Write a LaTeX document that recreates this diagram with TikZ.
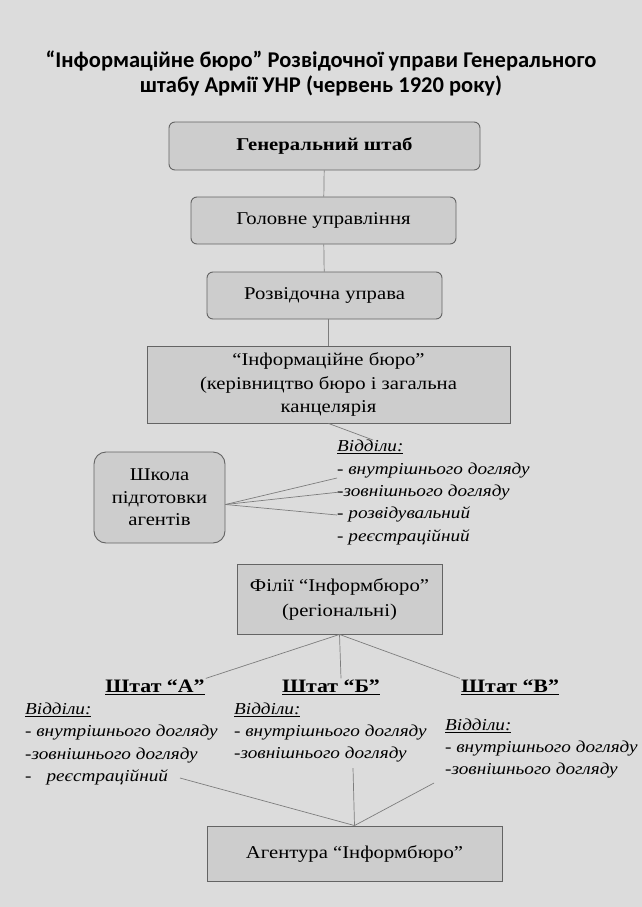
\documentclass[tikz,border=0pt]{standalone}
\usepackage{fontspec}
\setmainfont{Liberation Serif}[FakeStretch=1.15]
\newfontfamily\titlefont{Carlito}

\definecolor{bggray}{RGB}{220,220,220}
\definecolor{boxfill}{RGB}{205,205,205}
\definecolor{boxline}{RGB}{100,100,100}
\definecolor{linkgray}{RGB}{125,125,125}

\tikzset{
    box/.style={draw=boxline,fill=boxfill,line width=0.9pt,inner sep=0pt,align=center,
        font=\fontsize{18}{23.5}\selectfont},
    rbox/.style={box,rounded corners=6pt},
    list/.style={inner sep=0pt,align=left,anchor=west,font=\fontsize{16.7}{22.4}\selectfont\itshape},
    shtat/.style={inner sep=1pt,font=\fontsize{19}{20}\selectfont\bfseries},
    link/.style={draw=linkgray,line width=0.7pt}
}

\begin{document}
\begin{tikzpicture}[x=1pt,y=-1pt]
        \fill[bggray](0,0)rectangle(642,907);
        \useasboundingbox(0,0)rectangle(642,907);
        \node[align=center,font=\titlefont\fontsize{22.5}{25}\selectfont\bfseries](title) at(321,73)
            {“Інформаційне бюро” Розвідочної управи Генерального\\штабу Армії УНР (червень 1920 року)};
        \node[rbox,minimum width=311,minimum height=48,font=\fontsize{18}{23}\selectfont\bfseries](genshtab) at(324.5,146){Генеральний штаб};
        \node[rbox,minimum width=265,minimum height=47](golovne) at(323.5,220.5){Головне управління};
        \node[rbox,minimum width=235,minimum height=47](rozvid) at(324.5,295.5){Розвідочна управа};
        \node[box,minimum width=363,minimum height=77](info) at(328.5,384.5)
            {“Інформаційне бюро”\\(керівництво бюро і загальна\\канцелярія};
        \node[box,rounded corners=12pt,minimum width=131,minimum height=91,font=\fontsize{18}{22.5}\selectfont](school) at(159.5,497.5)
            {Школа\\підготовки\\агентів};
        \node[list](viddily) at(337,492.5)
            {\underline{Відділи:}\\- внутрішнього догляду\\-зовнішнього догляду\\- розвідувальний\\- реєстраційний};
        \node[box,minimum width=205,minimum height=70,font=\fontsize{18}{25}\selectfont](filii) at(339.5,599)
            {Філії “Інформбюро”\\(регіональні)};
        \node[shtat](shtatA) at(155,687){\underline{Штат “А”}};
        \node[shtat](shtatB) at(331,687){\underline{Штат “Б”}};
        \node[shtat](shtatV) at(510,687){\underline{Штат “В”}};
        \node[list](listA) at(25,744)
            {\underline{Відділи:}\\- внутрішнього догляду\\-зовнішнього догляду\\-\hspace{0.9em}реєстраційний};
        \node[list](listB) at(234,732.5)
            {\underline{Відділи:}\\- внутрішнього догляду\\-зовнішнього догляду};
        \node[list](listV) at(445,748.5)
            {\underline{Відділи:}\\- внутрішнього догляду\\-зовнішнього догляду};
        \node[box,minimum width=295,minimum height=55](agent) at(354.5,853.5){Агентура “Інформбюро”};
        \coordinate(v0) at(373,440);
        \coordinate(v1) at(337,478);
        \coordinate(v2) at(340,492);
        \coordinate(v3) at(337,515);
        \coordinate(a0) at(180,778);
        \coordinate(b0) at(353,768);
        \coordinate(c0) at(434,783);
        \draw[link](genshtab)--(golovne);
        \draw[link](golovne)--(rozvid);
        \draw[link](rozvid.south-|info.north)--(info.north);
        \draw[link](info.south)--(v0);
        \draw[link]([yshift=-7pt]school.east)--(v1);
        \draw[link]([yshift=-7pt]school.east)--(v2);
        \draw[link]([yshift=-7pt]school.east)--(v3);
        \draw[link](filii.south)--(shtatA.north east);
        \draw[link](filii.south)--([xshift=10pt]shtatB.north);
        \draw[link](filii.south)--(shtatV.north west);
        \draw[link](a0)--(agent.north);
        \draw[link](b0)--(agent.north);
        \draw[link](c0)--(agent.north);
    \end{tikzpicture}
\end{document}
